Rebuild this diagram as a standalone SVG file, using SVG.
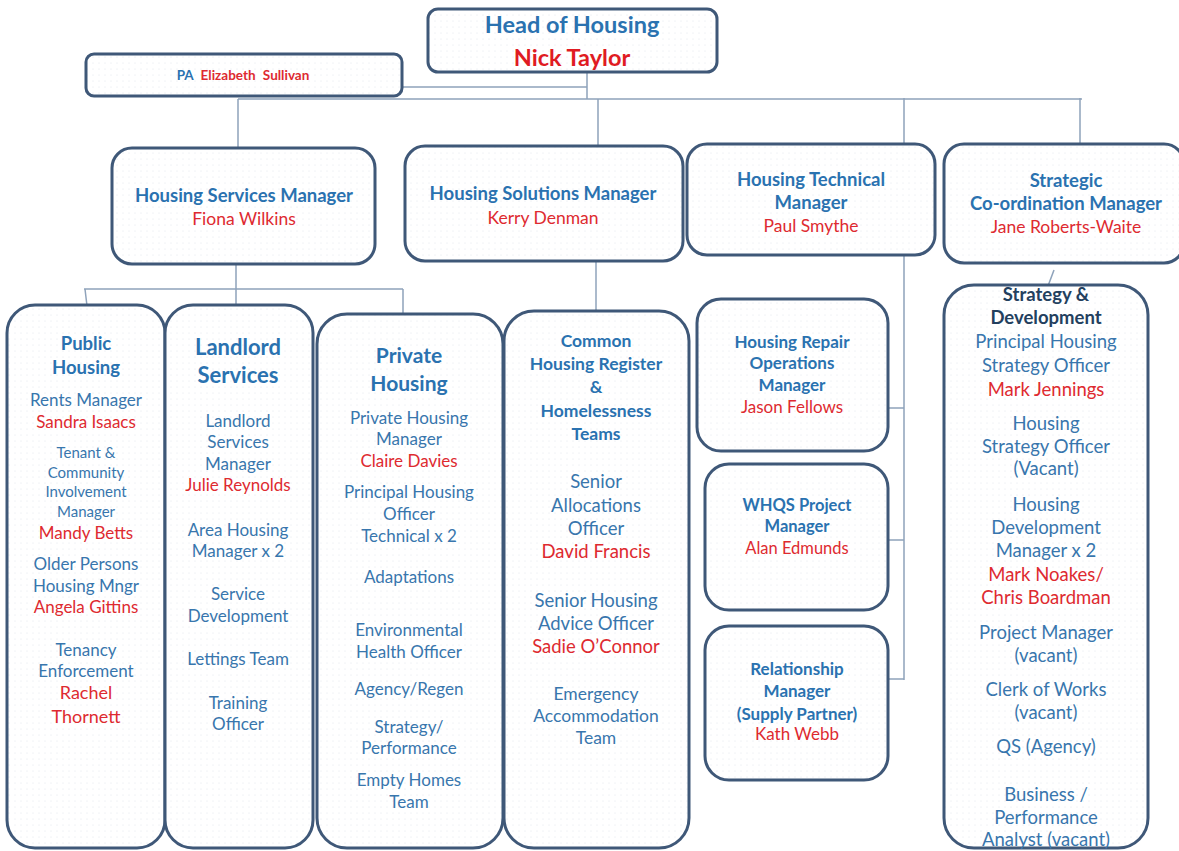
<svg xmlns="http://www.w3.org/2000/svg" width="1179" height="851" viewBox="0 0 1179 851">
<defs>
<pattern id="dots" width="6" height="6" patternUnits="userSpaceOnUse">
<rect width="6" height="6" fill="#ffffff"/>
<circle cx="3" cy="3" r="0.6" fill="#e3e8ee"/>
</pattern>
</defs>
<style>
.box{fill:url(#dots);stroke:#3f5878;stroke-width:3}
.con{fill:none;stroke:#8fa3bb;stroke-width:1.5}
text{font-family:Lato,"Open Sans","Liberation Sans",sans-serif;text-anchor:middle}
.h{fill:#2a72b0;font-weight:bold}
.b{fill:#3876ad}
.r{fill:#de2a30}
.d{fill:#23405e;font-weight:bold}
.s15{font-size:15px}
.s16{font-size:16.5px}
.s17{font-size:17px}
.s175{font-size:17.5px}
.s18{font-size:18.5px}
</style>
<rect width="1179" height="851" fill="#ffffff"/>

<g id="connectors">
<path class="con" d="M587 72 V99 M402 87 H587 M238 99 H1082 M238 99 V148 M598 99 V146 M904 98 V144 M1080 98 V144"/>
<path class="con" d="M236 264 V305 M84 289 H403 M85 289 L87 306 M403 289 V314"/>
<path class="con" d="M596 261 V311"/>
<path class="con" d="M904 255 V680 M888 408 H904 M888 540 H904 M888 679 H904"/>
<path class="con" d="M1054 270 L1048 286"/>
</g>

<g id="head">
<rect class="box" x="428" y="9" width="289" height="63" rx="10"/>
<text class="h" x="572" y="33" font-size="23.5">Head of Housing</text>
<text class="r" x="572" y="66" font-size="23.5" font-weight="bold" style="fill:#e01b22">Nick Taylor</text>
</g>

<g id="pa">
<rect class="box" x="86" y="54" width="316" height="42" rx="8"/>
<text x="243" y="80" font-size="13.5" font-weight="bold" word-spacing="4"><tspan class="h">PA </tspan><tspan class="r">Elizabeth Sullivan</tspan></text>
</g>

<g id="housing-services-manager">
<rect class="box" x="112" y="148" width="263" height="116" rx="20"/>
<text class="h s18" x="244" y="202">Housing Services Manager</text>
<text class="r s175" x="244" y="225">Fiona Wilkins</text>
</g>

<g id="housing-solutions-manager">
<rect class="box" x="405" y="146" width="278" height="115" rx="20"/>
<text class="h s18" x="543" y="200">Housing Solutions Manager</text>
<text class="r s175" x="543" y="224">Kerry Denman</text>
</g>

<g id="housing-technical-manager">
<rect class="box" x="687" y="144" width="248" height="111" rx="20"/>
<text class="h s18" x="811" y="186">Housing Technical</text>
<text class="h s18" x="811" y="209">Manager</text>
<text class="r s175" x="811" y="232">Paul Smythe</text>
</g>

<g id="strategic-coordination-manager">
<rect class="box" x="944" y="144" width="240" height="119" rx="20"/>
<text class="h s18" x="1066" y="187">Strategic</text>
<text class="h s18" x="1066" y="210">Co-ordination Manager</text>
<text class="r s175" x="1066" y="233">Jane Roberts-Waite</text>
</g>

<g id="public-housing">
<rect class="box" x="7" y="305" width="158" height="543" rx="28"/>
<text class="h" x="86" y="350" font-size="18.5">Public</text>
<text class="h" x="86" y="374" font-size="18.5">Housing</text>
<text class="b s17" x="86" y="406">Rents Manager</text>
<text class="r s17" x="86" y="428">Sandra Isaacs</text>
<text class="b s15" x="86" y="458">Tenant &amp;</text>
<text class="b s15" x="86" y="478">Community</text>
<text class="b s15" x="86" y="497">Involvement</text>
<text class="b s15" x="86" y="517">Manager</text>
<text class="r s17" x="86" y="539">Mandy Betts</text>
<text class="b s17" x="86" y="570">Older Persons</text>
<text class="b s17" x="86" y="592">Housing Mngr</text>
<text class="r s17" x="86" y="613">Angela Gittins</text>
<text class="b s17" x="86" y="656">Tenancy</text>
<text class="b s17" x="86" y="677">Enforcement</text>
<text class="r" x="86" y="699" font-size="18">Rachel</text>
<text class="r" x="86" y="723" font-size="18">Thornett</text>
</g>

<g id="landlord-services">
<rect class="box" x="165" y="305" width="148" height="543" rx="28"/>
<text class="h" x="238" y="355" font-size="22">Landlord</text>
<text class="h" x="238" y="383" font-size="22">Services</text>
<text class="b s17" x="238" y="427">Landlord</text>
<text class="b s17" x="238" y="448">Services</text>
<text class="b s17" x="238" y="470">Manager</text>
<text class="r s17" x="238" y="491">Julie Reynolds</text>
<text class="b s17" x="238" y="536">Area Housing</text>
<text class="b s17" x="238" y="557">Manager x 2</text>
<text class="b s17" x="238" y="600">Service</text>
<text class="b s17" x="238" y="622">Development</text>
<text class="b s17" x="238" y="665">Lettings Team</text>
<text class="b s17" x="238" y="709">Training</text>
<text class="b s17" x="238" y="730">Officer</text>
</g>

<g id="private-housing">
<rect class="box" x="317" y="314" width="186" height="534" rx="30"/>
<text class="h" x="409" y="363" font-size="21">Private</text>
<text class="h" x="409" y="391" font-size="21">Housing</text>
<text class="b s17" x="409" y="424">Private Housing</text>
<text class="b s17" x="409" y="445">Manager</text>
<text class="r s17" x="409" y="467">Claire Davies</text>
<text class="b s17" x="409" y="498">Principal Housing</text>
<text class="b s17" x="409" y="520">Officer</text>
<text class="b s17" x="409" y="542">Technical x 2</text>
<text class="b s17" x="409" y="583">Adaptations</text>
<text class="b s17" x="409" y="636">Environmental</text>
<text class="b s17" x="409" y="658">Health Officer</text>
<text class="b s17" x="409" y="695">Agency/Regen</text>
<text class="b s17" x="409" y="733">Strategy/</text>
<text class="b s17" x="409" y="754">Performance</text>
<text class="b s17" x="409" y="786">Empty Homes</text>
<text class="b s17" x="409" y="808">Team</text>
</g>

<g id="common-housing-register">
<rect class="box" x="504" y="311" width="185" height="537" rx="30"/>
<text class="h s175" x="596" y="347">Common</text>
<text class="h s175" x="596" y="370">Housing Register</text>
<text class="h s175" x="596" y="393">&amp;</text>
<text class="h s175" x="596" y="417">Homelessness</text>
<text class="h s175" x="596" y="440">Teams</text>
<text class="b s18" x="596" y="488">Senior</text>
<text class="b s18" x="596" y="512">Allocations</text>
<text class="b s18" x="596" y="535">Officer</text>
<text class="r s18" x="596" y="558">David Francis</text>
<text class="b s18" x="596" y="607">Senior Housing</text>
<text class="b s18" x="596" y="630">Advice Officer</text>
<text class="r s18" x="596" y="653">Sadie O’Connor</text>
<text class="b s175" x="596" y="700">Emergency</text>
<text class="b s175" x="596" y="722">Accommodation</text>
<text class="b s175" x="596" y="744">Team</text>
</g>

<g id="housing-repair-operations-manager">
<rect class="box" x="697" y="299" width="191" height="152" rx="24"/>
<text class="h s17" x="792" y="348">Housing Repair</text>
<text class="h s17" x="792" y="369">Operations</text>
<text class="h s17" x="792" y="391">Manager</text>
<text class="r s17" x="792" y="413">Jason Fellows</text>
</g>

<g id="whqs-project-manager">
<rect class="box" x="705" y="464" width="183" height="146" rx="24"/>
<text class="h s16" x="797" y="511">WHQS Project</text>
<text class="h s16" x="797" y="532">Manager</text>
<text class="r s16" x="797" y="554">Alan Edmunds</text>
</g>

<g id="relationship-manager">
<rect class="box" x="705" y="626" width="183" height="154" rx="24"/>
<text class="h s17" x="797" y="675">Relationship</text>
<text class="h s17" x="797" y="697">Manager</text>
<text class="h s17" x="797" y="720">(Supply Partner)</text>
<text class="r s17" x="797" y="740">Kath Webb</text>
</g>

<g id="strategy-development">
<rect class="box" x="944" y="285" width="204" height="563" rx="30"/>
<text class="d s18" x="1046" y="301">Strategy &amp;</text>
<text class="d s18" x="1046" y="324">Development</text>
<text class="b s18" x="1046" y="348">Principal Housing</text>
<text class="b s18" x="1046" y="372">Strategy Officer</text>
<text class="r s18" x="1046" y="396">Mark Jennings</text>
<text class="b s18" x="1046" y="430">Housing</text>
<text class="b s18" x="1046" y="453">Strategy Officer</text>
<text class="b s18" x="1046" y="475">(Vacant)</text>
<text class="b s18" x="1046" y="511">Housing</text>
<text class="b s18" x="1046" y="534">Development</text>
<text class="b s18" x="1046" y="557">Manager x 2</text>
<text class="r s18" x="1046" y="581">Mark Noakes/</text>
<text class="r s18" x="1046" y="604">Chris Boardman</text>
<text class="b s18" x="1046" y="639">Project Manager</text>
<text class="b s18" x="1046" y="662">(vacant)</text>
<text class="b s18" x="1046" y="696">Clerk of Works</text>
<text class="b s18" x="1046" y="719">(vacant)</text>
<text class="b s18" x="1046" y="753">QS (Agency)</text>
<text class="b s18" x="1046" y="801">Business /</text>
<text class="b s18" x="1046" y="824">Performance</text>
<text class="b s18" x="1046" y="846">Analyst (vacant)</text>
</g>
</svg>
